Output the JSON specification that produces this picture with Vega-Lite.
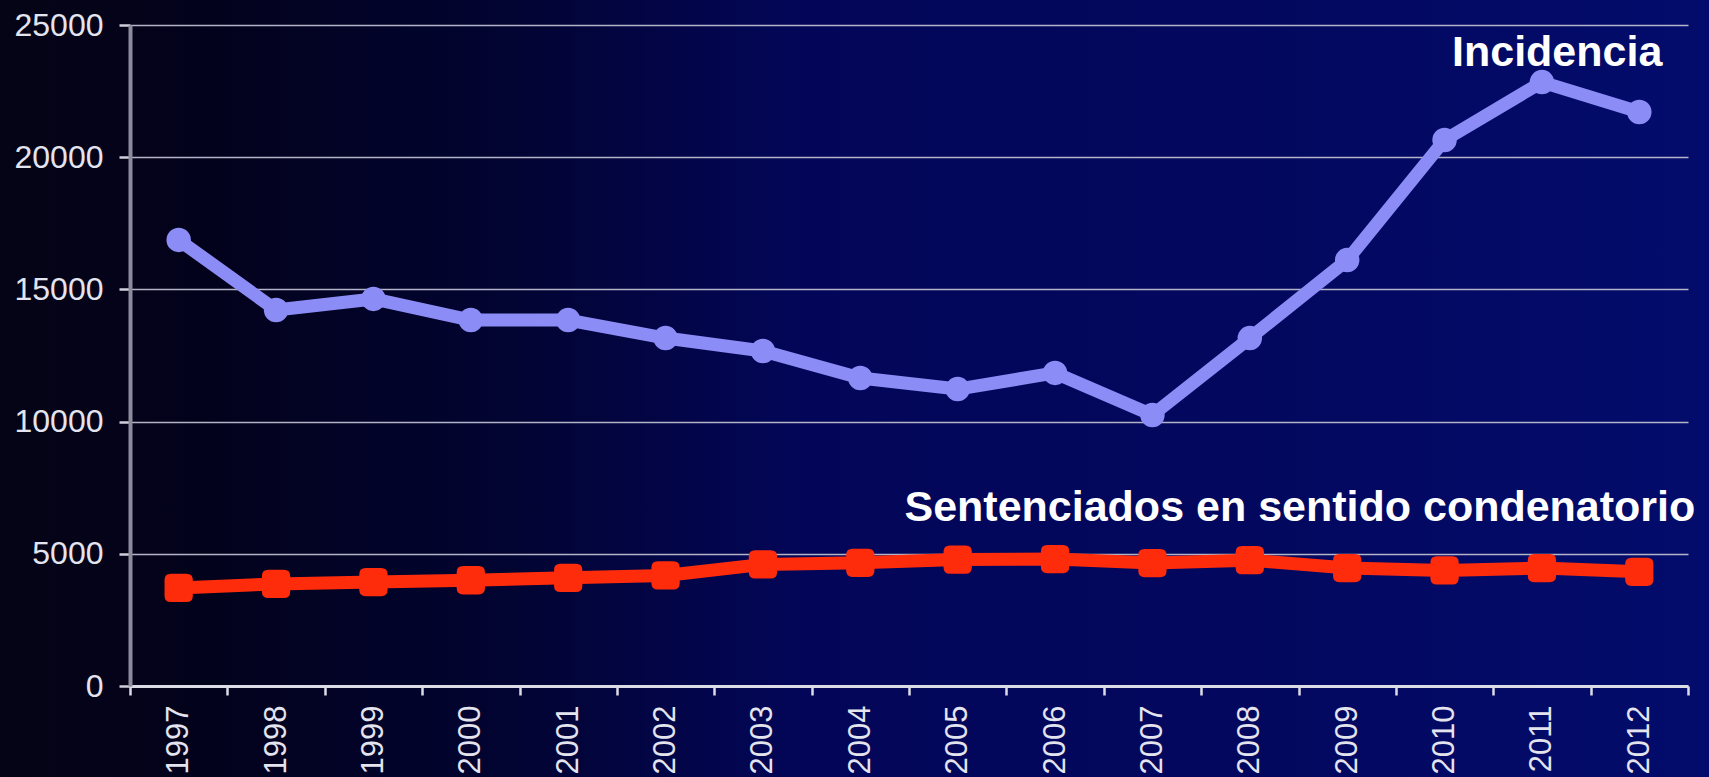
{
  "$schema": "https://vega.github.io/schema/vega-lite/v6.json",
  "width": 1709,
  "height": 777,
  "autosize": {"type": "none"},
  "padding": 0,
  "background": "#050416",
  "config": {
    "view": {
      "stroke": null,
      "fill": {
        "gradient": "linear", "x1": 0, "y1": 0, "x2": 1, "y2": 0,
        "stops": [
          {"offset": 0, "color": "#050416"},
          {"offset": 0.12, "color": "#03021c"},
          {"offset": 0.3, "color": "#020432"},
          {"offset": 0.47, "color": "#030658"},
          {"offset": 0.75, "color": "#03085f"},
          {"offset": 1, "color": "#030c6c"}
        ]
      }
    },
    "font": "Liberation Sans"
  },
  "datasets": {
    "series": [
      {"year": "1997", "serie": "Incidencia", "value": 16870},
      {"year": "1998", "serie": "Incidencia", "value": 14220},
      {"year": "1999", "serie": "Incidencia", "value": 14640},
      {"year": "2000", "serie": "Incidencia", "value": 13840},
      {"year": "2001", "serie": "Incidencia", "value": 13840},
      {"year": "2002", "serie": "Incidencia", "value": 13160},
      {"year": "2003", "serie": "Incidencia", "value": 12670},
      {"year": "2004", "serie": "Incidencia", "value": 11650},
      {"year": "2005", "serie": "Incidencia", "value": 11230},
      {"year": "2006", "serie": "Incidencia", "value": 11840},
      {"year": "2007", "serie": "Incidencia", "value": 10250},
      {"year": "2008", "serie": "Incidencia", "value": 13160},
      {"year": "2009", "serie": "Incidencia", "value": 16110},
      {"year": "2010", "serie": "Incidencia", "value": 20650},
      {"year": "2011", "serie": "Incidencia", "value": 22840},
      {"year": "2012", "serie": "Incidencia", "value": 21710},
      {"year": "1997", "serie": "Sentenciados", "value": 3710},
      {"year": "1998", "serie": "Sentenciados", "value": 3860},
      {"year": "1999", "serie": "Sentenciados", "value": 3930},
      {"year": "2000", "serie": "Sentenciados", "value": 4000},
      {"year": "2001", "serie": "Sentenciados", "value": 4090},
      {"year": "2002", "serie": "Sentenciados", "value": 4180},
      {"year": "2003", "serie": "Sentenciados", "value": 4600},
      {"year": "2004", "serie": "Sentenciados", "value": 4660},
      {"year": "2005", "serie": "Sentenciados", "value": 4780},
      {"year": "2006", "serie": "Sentenciados", "value": 4800},
      {"year": "2007", "serie": "Sentenciados", "value": 4650},
      {"year": "2008", "serie": "Sentenciados", "value": 4760},
      {"year": "2009", "serie": "Sentenciados", "value": 4460},
      {"year": "2010", "serie": "Sentenciados", "value": 4370},
      {"year": "2011", "serie": "Sentenciados", "value": 4460},
      {"year": "2012", "serie": "Sentenciados", "value": 4320}
    ],
    "labels": [
      {"year": "2012", "label": "Incidencia", "value": 23450},
      {"year": "2012", "label": "Sentenciados en sentido condenatorio", "value": 6230}
    ]
  },
  "encoding": {
    "x": {
      "field": "year", "type": "ordinal",
      "scale": {"type": "band", "range": [130, 1688], "paddingInner": 0, "paddingOuter": 0},
      "axis": {
        "orient": "bottom", "offset": -91, "title": null, "grid": false,
        "tickBand": "extent", "labelAngle": -90, "labelAlign": "right", "labelBaseline": "middle",
        "labelFontSize": 31, "labelColor": "#e4e4ee", "labelPadding": 10,
        "domainColor": "#dcdce6", "domainWidth": 3, "tickColor": "#dcdce6", "tickWidth": 2.5, "tickSize": 9
      }
    },
    "y": {
      "field": "value", "type": "quantitative",
      "scale": {"domain": [0, 25000], "range": [686, 25], "nice": false},
      "axis": {
        "orient": "left", "offset": -130, "title": null,
        "values": [0, 5000, 10000, 15000, 20000, 25000], "format": "d",
        "grid": true, "gridColor": "#b4b4c8", "gridWidth": 1.5,
        "labelFontSize": 32, "labelColor": "#e4e4ee", "labelPadding": 16,
        "domainColor": "#8c8c9c", "domainWidth": 4, "tickColor": "#d0d0dc", "tickWidth": 2.5, "tickSize": 11
      }
    }
  },
  "layer": [
    {
      "data": {"name": "series"},
      "mark": {"type": "line", "strokeWidth": 13, "strokeJoin": "round"},
      "encoding": {
        "color": {"field": "serie", "type": "nominal", "legend": null,
          "scale": {"domain": ["Incidencia", "Sentenciados"], "range": ["#8c8cf6", "#ff2c0c"]}}
      }
    },
    {
      "data": {"name": "series"},
      "mark": {"type": "point", "filled": true, "opacity": 1},
      "encoding": {
        "color": {"field": "serie", "type": "nominal", "legend": null},
        "shape": {"field": "serie", "type": "nominal", "legend": null,
          "scale": {"domain": ["Incidencia", "Sentenciados"],
            "range": ["circle", "M -1 -0.55 Q -1 -1 -0.55 -1 L 0.55 -1 Q 1 -1 1 -0.55 L 1 0.55 Q 1 1 0.55 1 L -0.55 1 Q -1 1 -1 0.55 Z"]}},
        "size": {"field": "serie", "type": "nominal", "legend": null,
          "scale": {"domain": ["Incidencia", "Sentenciados"], "range": [600, 800]}}
      }
    },
    {
      "data": {"name": "labels"},
      "transform": [{"filter": "datum.label == 'Incidencia'"}],
      "mark": {"type": "text", "align": "right", "baseline": "alphabetic", "dx": 23, "fontSize": 43, "fontWeight": "bold", "color": "#ffffff"},
      "encoding": {"text": {"field": "label"}}
    },
    {
      "data": {"name": "labels"},
      "transform": [{"filter": "datum.label != 'Incidencia'"}],
      "mark": {"type": "text", "align": "right", "baseline": "alphabetic", "dx": 56, "fontSize": 43, "fontWeight": "bold", "color": "#ffffff"},
      "encoding": {"text": {"field": "label"}}
    }
  ]
}
